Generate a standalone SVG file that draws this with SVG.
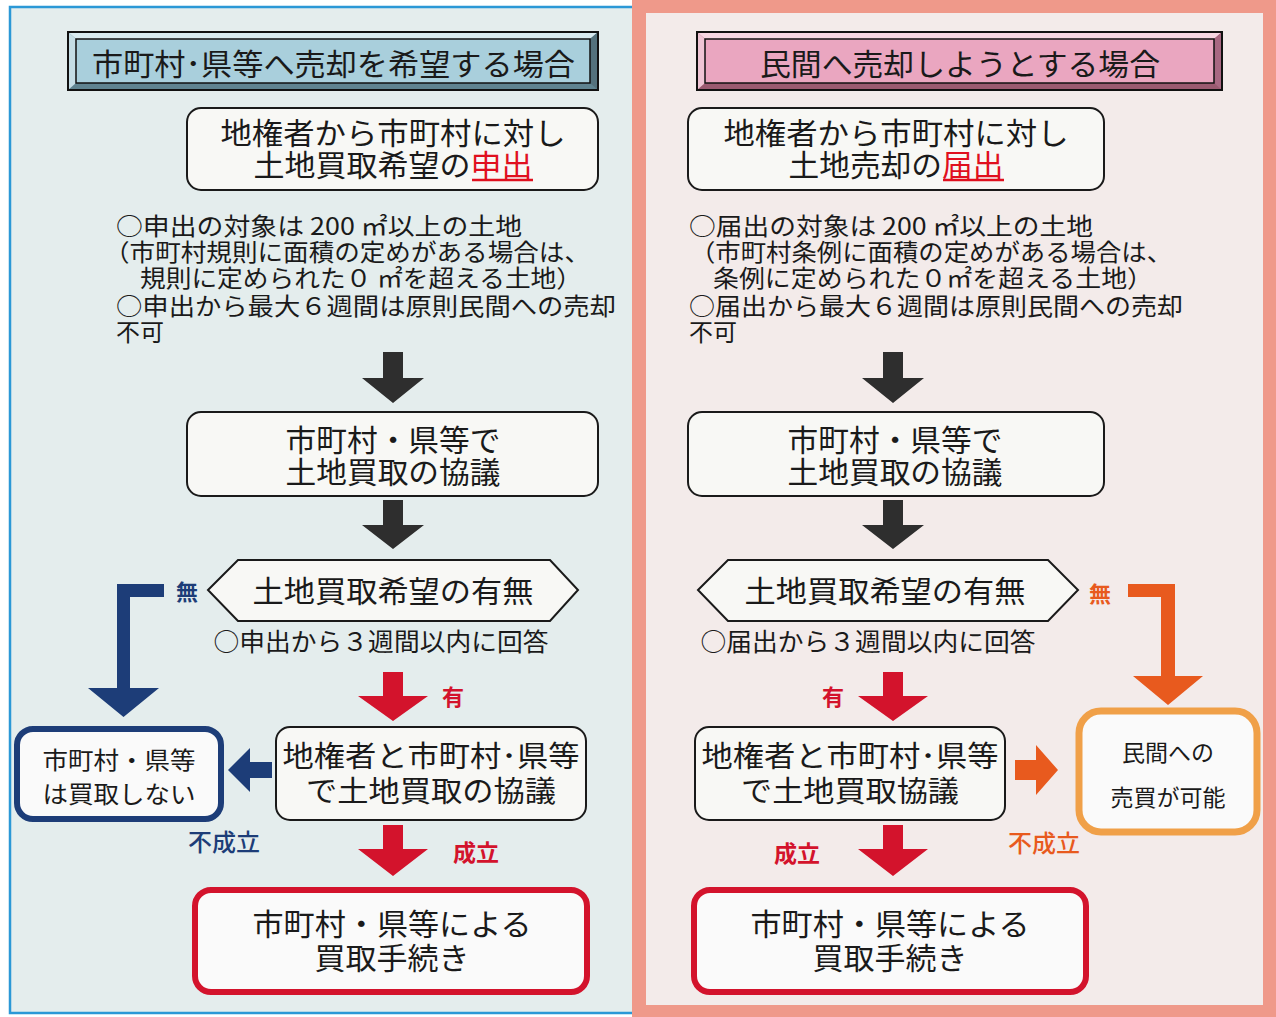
<svg xmlns="http://www.w3.org/2000/svg" width="1276" height="1017" viewBox="0 0 1276 1017">
<defs>
<style>
text{font-family:"Noto Sans CJK JP","Noto Sans",sans-serif;fill:#1a1a1a}
.t31{font-size:30px;text-anchor:middle}
.t30{font-size:29px;text-anchor:middle}
.t25{font-size:24px}
.c{text-anchor:middle}
.box{fill:#f8f8f5;stroke:#1a1a1a;stroke-width:2}
.dark{fill:#2e2e2e}
.red{fill:#d3132c}
.blue{fill:#1d3d78}
.org{fill:#e85a1e}
.lblB{fill:#1d3d78;font-weight:700}
.lblR{fill:#d3132c;font-weight:700}
.lblO{fill:#e85a1e;font-weight:700}
</style>
</defs>
<rect x="0" y="0" width="1276" height="1017" fill="#ffffff"/>
<!-- panels -->
<rect x="10" y="7" width="624" height="1006" fill="#e4eded" stroke="#2b98d6" stroke-width="2.5"/>
<rect x="632" y="0" width="644" height="1017" fill="#ef998a"/>
<rect x="646" y="13" width="617" height="992" fill="#f3ebea"/>

<!-- headers -->
<g id="header-left">
<rect x="68" y="32" width="530" height="58" fill="#5f8390" stroke="#111" stroke-width="2"/>
<polygon points="68,32 598,32 590,39 76,39" fill="#d9ebf0"/>
<polygon points="68,32 76,39 76,83 68,90" fill="#c5dde5"/>
<polygon points="598,32 590,39 590,83 598,90" fill="#54717c"/>
<rect x="76" y="39" width="514" height="44" fill="#a9cfdc" stroke="#111" stroke-width="1.5"/>
<rect x="68" y="32" width="530" height="58" fill="none" stroke="#111" stroke-width="2"/>
<text x="92" y="75" font-size="30" textLength="483" lengthAdjust="spacingAndGlyphs">市町村･県等へ売却を希望する場合</text>
</g>
<g id="header-right">
<rect x="697" y="32" width="525" height="58" fill="#9a5a70" stroke="#111" stroke-width="2"/>
<polygon points="697,32 1222,32 1214,39 705,39" fill="#f6d6e2"/>
<polygon points="697,32 705,39 705,83 697,90" fill="#eec4d4"/>
<polygon points="1222,32 1214,39 1214,83 1222,90" fill="#a86882"/>
<rect x="705" y="39" width="509" height="44" fill="#eaa6c0" stroke="#111" stroke-width="1.5"/>
<rect x="697" y="32" width="525" height="58" fill="none" stroke="#111" stroke-width="2"/>
<text x="760" y="75" font-size="30" textLength="400" lengthAdjust="spacingAndGlyphs">民間へ売却しようとする場合</text>
</g>

<!-- left flow nodes -->
<g id="L-request">
<rect class="box" x="187" y="108" width="411" height="82" rx="14"/>
<text class="t31" x="393" y="144" textLength="345" lengthAdjust="spacingAndGlyphs">地権者から市町村に対し</text>
<text class="t31" x="393" y="176" textLength="279" lengthAdjust="spacingAndGlyphs">土地買取希望の<tspan fill="#e0101e">申出</tspan></text>
<line x1="472" y1="180" x2="533" y2="180" stroke="#e0101e" stroke-width="2.5"/>
</g>
<g id="L-notes">
<text class="t25" x="116" y="235" textLength="406" lengthAdjust="spacingAndGlyphs">○申出の対象は 200 ㎡以上の土地</text>
<text class="t25" x="104" y="261" textLength="486" lengthAdjust="spacingAndGlyphs">（市町村規則に面積の定めがある場合は、</text>
<text class="t25" x="140" y="287" textLength="442" lengthAdjust="spacingAndGlyphs">規則に定められた０ ㎡を超える土地）</text>
<text class="t25" x="116" y="315" textLength="500" lengthAdjust="spacingAndGlyphs">○申出から最大６週間は原則民間への売却</text>
<text class="t25" x="116" y="341">不可</text>
</g>
<g id="L-consult">
<rect class="box" x="187" y="412" width="411" height="84" rx="14"/>
<text class="t31" x="393" y="451" textLength="215" lengthAdjust="spacingAndGlyphs">市町村・県等で</text>
<text class="t31" x="393" y="483" textLength="215" lengthAdjust="spacingAndGlyphs">土地買取の協議</text>
</g>
<g id="L-decision">
<polygon points="208,590 238,560 550,560 578,590 550,621 238,621" fill="#f8f8f5" stroke="#1a1a1a" stroke-width="2"/>
<text class="t31" x="393" y="602" textLength="281" lengthAdjust="spacingAndGlyphs">土地買取希望の有無</text>
<text class="c" x="381" y="651" font-size="25" textLength="335" lengthAdjust="spacingAndGlyphs">○申出から３週間以内に回答</text>
</g>
<g id="L-nobuy">
<rect x="17" y="729" width="204" height="90" rx="16" fill="#fafafa" stroke="#1d3d78" stroke-width="6"/>
<text class="c" x="119" y="769" font-size="24" textLength="153" lengthAdjust="spacingAndGlyphs">市町村・県等</text>
<text class="c" x="119" y="803" font-size="24" textLength="153" lengthAdjust="spacingAndGlyphs">は買取しない</text>
</g>
<g id="L-negotiate">
<rect class="box" x="276" y="727" width="310" height="93" rx="14"/>
<text class="t30" x="431" y="767" textLength="297" lengthAdjust="spacingAndGlyphs">地権者と市町村･県等</text>
<text class="t30" x="431" y="802" textLength="250" lengthAdjust="spacingAndGlyphs">で土地買取の協議</text>
</g>
<g id="L-procedure">
<rect x="195" y="890" width="392" height="102" rx="16" fill="#fafafa" stroke="#d3132c" stroke-width="6"/>
<text class="t31" x="392" y="935" textLength="279" lengthAdjust="spacingAndGlyphs">市町村・県等による</text>
<text class="t31" x="392" y="969" textLength="155" lengthAdjust="spacingAndGlyphs">買取手続き</text>
</g>

<!-- right flow nodes -->
<g id="R-notify">
<rect class="box" x="688" y="108" width="416" height="82" rx="14"/>
<text class="t31" x="896" y="144" textLength="345" lengthAdjust="spacingAndGlyphs">地権者から市町村に対し</text>
<text class="t31" x="896" y="176" textLength="215" lengthAdjust="spacingAndGlyphs">土地売却の<tspan fill="#e0101e">届出</tspan></text>
<line x1="943" y1="180" x2="1004" y2="180" stroke="#e0101e" stroke-width="2.5"/>
</g>
<g id="R-notes">
<text class="t25" x="689" y="235" textLength="404" lengthAdjust="spacingAndGlyphs">○届出の対象は 200 ㎡以上の土地</text>
<text class="t25" x="690" y="261" textLength="482" lengthAdjust="spacingAndGlyphs">（市町村条例に面積の定めがある場合は、</text>
<text class="t25" x="713" y="287" textLength="440" lengthAdjust="spacingAndGlyphs">条例に定められた０㎡を超える土地）</text>
<text class="t25" x="689" y="315" textLength="494" lengthAdjust="spacingAndGlyphs">○届出から最大６週間は原則民間への売却</text>
<text class="t25" x="689" y="341">不可</text>
</g>
<g id="R-consult">
<rect class="box" x="688" y="412" width="416" height="84" rx="14"/>
<text class="t31" x="895" y="451" textLength="215" lengthAdjust="spacingAndGlyphs">市町村・県等で</text>
<text class="t31" x="895" y="483" textLength="215" lengthAdjust="spacingAndGlyphs">土地買取の協議</text>
</g>
<g id="R-decision">
<polygon points="698,590 728,560 1048,560 1078,590 1048,621 728,621" fill="#f8f8f5" stroke="#1a1a1a" stroke-width="2"/>
<text class="t31" x="885" y="602" textLength="281" lengthAdjust="spacingAndGlyphs">土地買取希望の有無</text>
<text class="c" x="868" y="651" font-size="25" textLength="335" lengthAdjust="spacingAndGlyphs">○届出から３週間以内に回答</text>
</g>
<g id="R-negotiate">
<rect class="box" x="695" y="727" width="310" height="93" rx="14"/>
<text class="t30" x="850" y="767" textLength="297" lengthAdjust="spacingAndGlyphs">地権者と市町村･県等</text>
<text class="t30" x="850" y="802" textLength="218" lengthAdjust="spacingAndGlyphs">で土地買取協議</text>
</g>
<g id="R-private">
<rect x="1079" y="711" width="178" height="121" rx="22" fill="#fafafa" stroke="#f0a048" stroke-width="7"/>
<text class="c" x="1168" y="761" font-size="23">民間への</text>
<text class="c" x="1168" y="806" font-size="23">売買が可能</text>
</g>
<g id="R-procedure">
<rect x="694" y="890" width="392" height="102" rx="16" fill="#fafafa" stroke="#d3132c" stroke-width="6"/>
<text class="t31" x="890" y="935" textLength="279" lengthAdjust="spacingAndGlyphs">市町村・県等による</text>
<text class="t31" x="890" y="969" textLength="155" lengthAdjust="spacingAndGlyphs">買取手続き</text>
</g>

<!-- connectors -->
<g id="connectors">
<polygon class="dark" points="383,352 403,352 403,378 424,378 393,403 362,378 383,378"/>
<polygon class="dark" points="383,500 403,500 403,525 424,525 393,549 362,525 383,525"/>
<polygon class="dark" points="883,352 903,352 903,378 924,378 893,403 862,378 883,378"/>
<polygon class="dark" points="883,500 903,500 903,525 924,525 893,549 862,525 883,525"/>

<polygon class="blue" points="164,584 117,584 117,688 88,688 123.5,717 159,688 130,688 130,597 164,597"/>
<polygon class="blue" points="272,762 250,762 250,748 228,770 250,792 250,778 272,778"/>

<polygon class="red" points="383,672 403,672 403,696 428,696 393,721 358,696 383,696"/>
<polygon class="red" points="383,825 403,825 403,849 428,849 393,876 358,849 383,849"/>
<polygon class="red" points="883,672 903,672 903,696 928,696 893,721 858,696 883,696"/>
<polygon class="red" points="883,825 903,825 903,849 928,849 893,876 858,849 883,849"/>

<polygon class="org" points="1128,584 1175,584 1175,676 1203,676 1168,705 1133,676 1161,676 1161,597 1128,597"/>
<polygon class="org" points="1015,760 1036,760 1036,745 1058,770 1036,795 1036,780 1015,780"/>

<text class="lblB" x="187" y="600" font-size="22" text-anchor="middle">無</text>
<text class="lblO" x="1100" y="602" font-size="22" text-anchor="middle">無</text>
<text class="lblR" x="453" y="705" font-size="22" text-anchor="middle">有</text>
<text class="lblR" x="833" y="705" font-size="22" text-anchor="middle">有</text>
<text class="lblR" x="476" y="861" font-size="23" text-anchor="middle">成立</text>
<text class="lblR" x="797" y="862" font-size="23" text-anchor="middle">成立</text>
<text class="lblB" x="224" y="851" font-size="24" text-anchor="middle" style="font-weight:500">不成立</text>
<text class="lblO" x="1044" y="852" font-size="24" text-anchor="middle" style="font-weight:500">不成立</text>
</g>
</svg>
